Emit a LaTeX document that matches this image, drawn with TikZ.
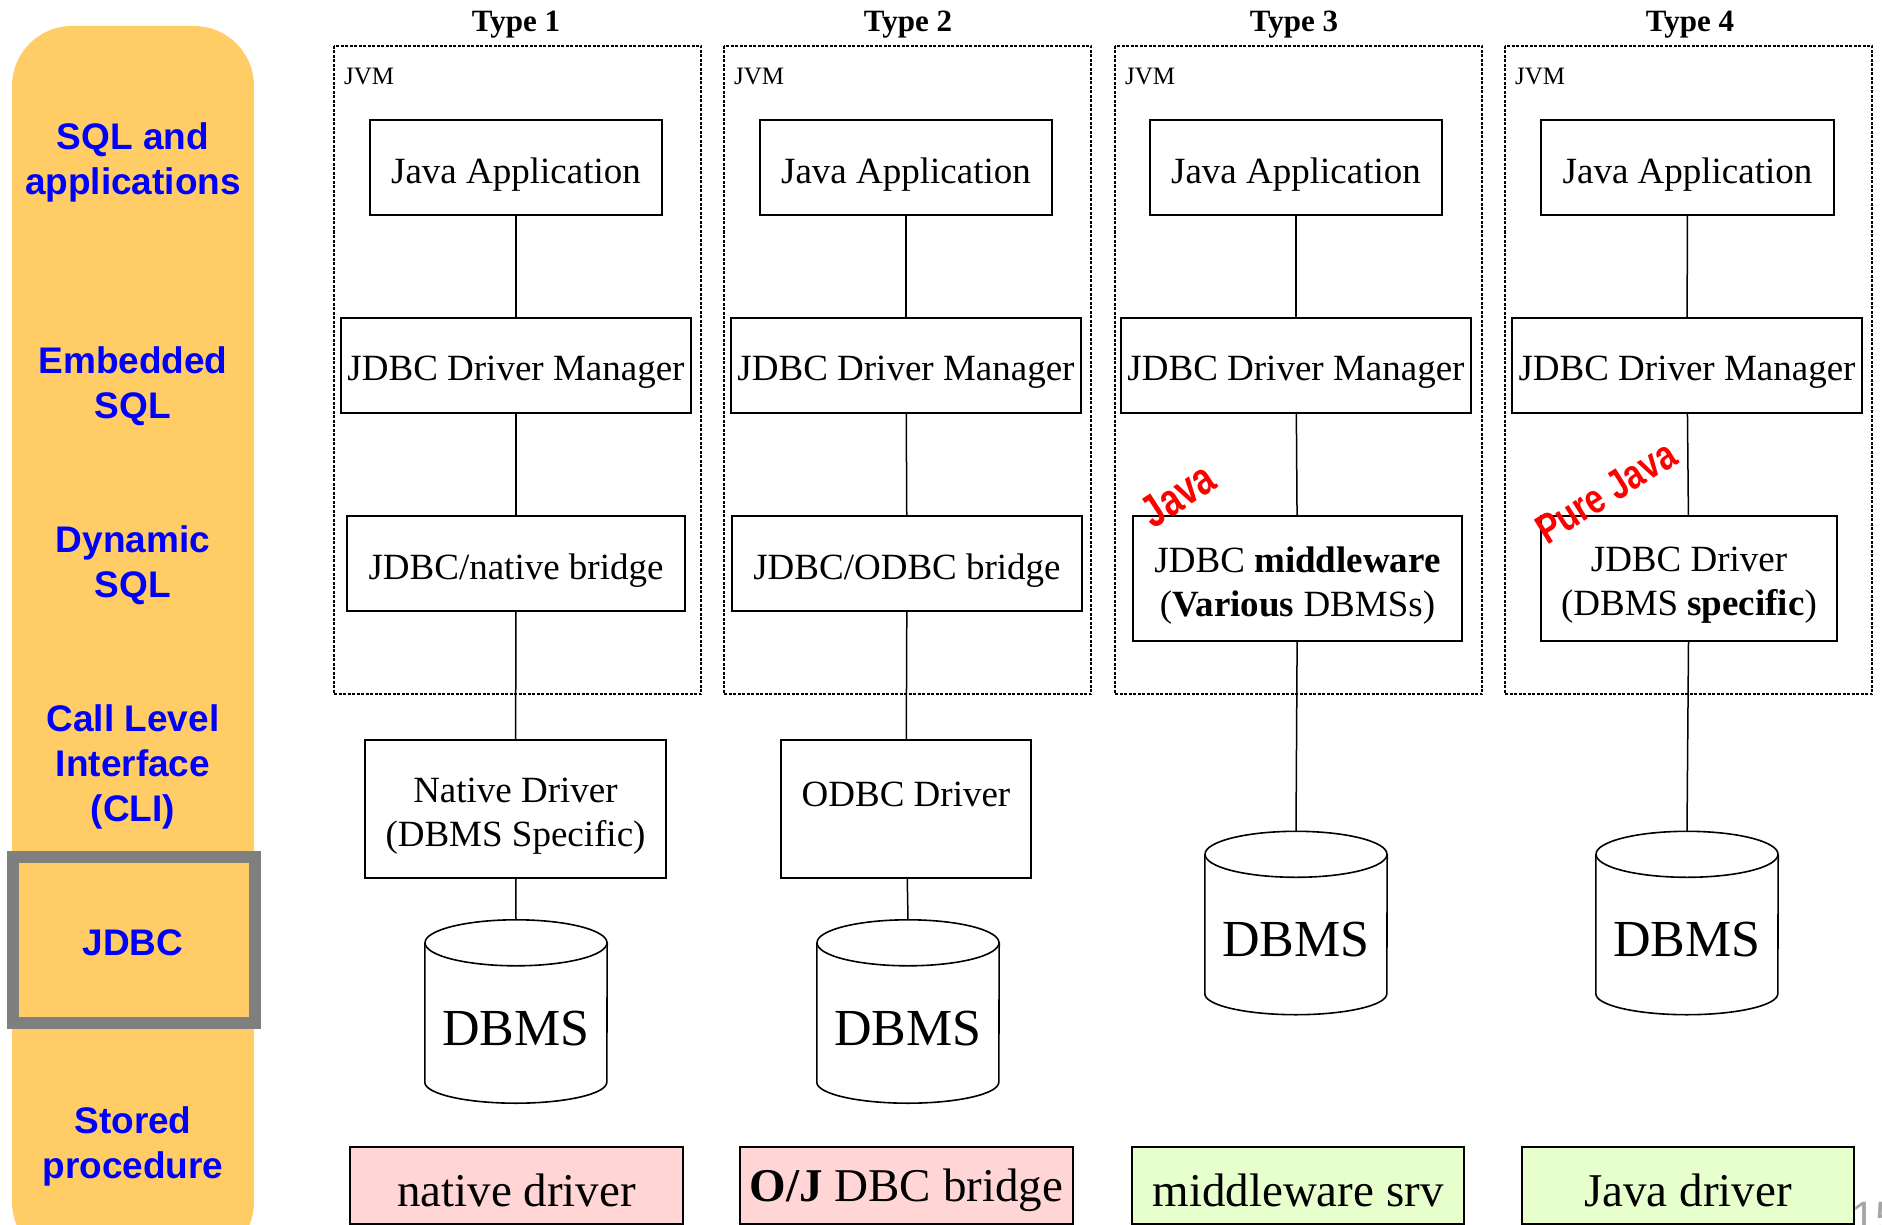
\documentclass[tikz,border=0pt]{standalone}
\usepackage{fontspec}
\setmainfont{Liberation Serif}
\setsansfont{Liberation Sans}
\definecolor{barorange}{HTML}{FFCC66}
\definecolor{pinkfill}{HTML}{FFD5D5}
\definecolor{greenfill}{HTML}{E6FFCC}
\definecolor{framegray}{HTML}{7F7F7F}
\newcommand\dn[2][7pt]{\raisebox{-#1}[\height][\depth]{#2}}
\newcommand\dbcyl[1]{%
  \draw[line width=1.6pt] ([yshift=-23pt]#1.north west) -- ([yshift=21pt]#1.south west)
     arc[start angle=180,end angle=360,x radius=91pt,y radius=21pt]
     -- ([yshift=-23pt]#1.north east);
  \draw[line width=1.6pt] ([yshift=-23pt]#1.north) ellipse[x radius=91pt,y radius=23pt];
}
\begin{document}
\begin{tikzpicture}[x=1pt,y=-1pt,
  box/.style={draw,line width=1.8pt,fill=white,inner sep=0pt,align=center,
    font=\fontsize{37}{44}\selectfont},
  conn/.style={line width=1.5pt},
  jvmbox/.style={draw,line width=1.8pt,dash pattern=on 3pt off 1.5pt},
  jvmlabel/.style={anchor=west,inner sep=0pt,font=\fontsize{25}{25}\selectfont},
  typetitle/.style={anchor=base,inner sep=0pt,font=\bfseries\fontsize{31}{31}\selectfont},
  side/.style={text=blue,align=center,inner sep=0pt,font=\sffamily\bfseries\fontsize{37}{45}\selectfont},
  dbnode/.style={inner sep=0pt,minimum width=182pt,minimum height=183pt},
  dbtext/.style={inner sep=0pt,font=\fontsize{52}{52}\selectfont},
  kindbox/.style={draw,line width=1.8pt,inner sep=0pt,minimum width=333pt,minimum height=77pt,
    font=\fontsize{47}{47}\selectfont},
  redtxt/.style={text=red,inner sep=0pt,font=\sffamily\bfseries\fontsize{38}{38}\selectfont}]
\useasboundingbox (0,0) rectangle (1882,1225);

% left bar
\path[fill=barorange,rounded corners=60pt] (12,26) rectangle (254,1262);
\draw[line width=12pt,framegray] (13,857) rectangle (255,1023);
\node[side] (s1) at (133,162) {SQL and\\applications};
\node[side] (s2) at (133,386) {Embedded\\SQL};
\node[side] (s3) at (133,565) {Dynamic\\SQL};
\node[side] (s4) at (133,767) {Call Level\\Interface\\(CLI)};
\node[side] (s5) at (133,943) {JDBC};
\node[side] (s6) at (133,1146) {Stored\\procedure};

% titles
\node[typetitle] (t1) at (516,32) {Type 1};
\node[typetitle] (t2) at (908,32) {Type 2};
\node[typetitle] (t3) at (1294,32) {Type 3};
\node[typetitle] (t4) at (1690,32) {Type 4};

% JVM frames
\draw[jvmbox] (334,46) rectangle (701,694);
\draw[jvmbox] (724,46) rectangle (1091,694);
\draw[jvmbox] (1115,46) rectangle (1482,694);
\draw[jvmbox] (1505,46) rectangle (1872,694);
\node[jvmlabel] (v1) at (344,77) {JVM};
\node[jvmlabel] (v2) at (734,77) {JVM};
\node[jvmlabel] (v3) at (1125,77) {JVM};
\node[jvmlabel] (v4) at (1515,77) {JVM};

% Type 1
\node[box,minimum width=292pt,minimum height=95pt] (ja1) at (516,167.5) {\dn{Java Application}};
\node[box,minimum width=350pt,minimum height=95pt] (dm1) at (516,365.5) {\dn{JDBC Driver Manager}};
\node[box,minimum width=338pt,minimum height=95pt] (br1) at (516,563.5) {\dn{JDBC/native bridge}};
\node[box,minimum width=301pt,minimum height=138pt] (nd1) at (515.5,809) {\dn{Native Driver}\\\dn{(DBMS Specific)}};
\node[dbnode] (db1) at (516,1011.5) {};
\dbcyl{db1}
\node[dbtext] (dt1) at ([yshift=-17pt]db1.center) {DBMS};
\node[kindbox,fill=pinkfill] (k1) at (516.5,1185.5) {\dn[5pt]{native driver}};

% Type 2
\node[box,minimum width=292pt,minimum height=95pt] (ja2) at (906,167.5) {\dn{Java Application}};
\node[box,minimum width=350pt,minimum height=95pt] (dm2) at (906,365.5) {\dn{JDBC Driver Manager}};
\node[box,minimum width=350pt,minimum height=95pt] (br2) at (907,563.5) {\dn{JDBC/ODBC bridge}};
\node[box,minimum width=250pt,minimum height=138pt] (od2) at (906,809) {\dn{ODBC Driver}\\\mbox{}};
\node[dbnode] (db2) at (908,1011.5) {};
\dbcyl{db2}
\node[dbtext] (dt2) at ([yshift=-17pt]db2.center) {DBMS};
\node[kindbox,fill=pinkfill] (k2) at (906.5,1185.5) {\dn[5pt]{\textbf{O/J} DBC bridge}};

% Type 3
\node[box,minimum width=292pt,minimum height=95pt] (ja3) at (1296,167.5) {\dn{Java Application}};
\node[box,minimum width=350pt,minimum height=95pt] (dm3) at (1296,365.5) {\dn{JDBC Driver Manager}};
\node[box,minimum width=329pt,minimum height=125pt] (mw3) at (1297.5,578.5) {\dn{JDBC \textbf{middleware}}\\\dn{(\textbf{Various} DBMSs)}};
\node[dbnode] (db3) at (1296,923) {};
\dbcyl{db3}
\node[dbtext] (dt3) at ([yshift=-17pt]db3.center) {DBMS};
\node[kindbox,fill=greenfill,minimum width=332pt] (k3) at (1298,1185.5) {\dn[5pt]{middleware srv}};

% Type 4
\node[box,minimum width=293pt,minimum height=95pt] (ja4) at (1687.5,167.5) {\dn{Java Application}};
\node[box,minimum width=350pt,minimum height=95pt] (dm4) at (1687,365.5) {\dn{JDBC Driver Manager}};
\node[box,minimum width=296pt,minimum height=125pt] (jd4) at (1689,578.5) {\dn{JDBC Driver}\\\dn{(DBMS \textbf{specific})}};
\node[dbnode] (db4) at (1687,923) {};
\dbcyl{db4}
\node[dbtext] (dt4) at ([yshift=-17pt]db4.center) {DBMS};
\node[kindbox,fill=greenfill,minimum width=332pt] (k4) at (1688,1185.5) {\dn[5pt]{Java driver}};

% connectors
\draw[conn] (ja1) -- (dm1); \draw[conn] (dm1) -- (br1); \draw[conn] (br1) -- (nd1); \draw[conn] (nd1) -- (db1.north);
\draw[conn] (ja2) -- (dm2); \draw[conn] (dm2) -- (br2); \draw[conn] (br2) -- (od2); \draw[conn] (od2) -- (db2.north);
\draw[conn] (ja3) -- (dm3); \draw[conn] (dm3) -- (mw3); \draw[conn] (mw3) -- (db3.north);
\draw[conn] (ja4) -- (dm4); \draw[conn] (dm4) -- (jd4); \draw[conn] (jd4) -- (db4.north);

% red annotations
\node[redtxt,rotate=33] (rj) at (1178,495) {\scalebox{0.92}[1.2]{Java}};
\node[redtxt,rotate=32,font=\sffamily\bfseries\fontsize{36}{36}\selectfont] (rpj) at (1606,492) {\scalebox{0.92}[1.15]{Pure Java}};

% page number (cut off)
\node[anchor=north west,inner sep=0pt,text=gray!70,font=\sffamily\fontsize{44}{44}\selectfont] (pg) at (1851,1202) {15};
\end{tikzpicture}
\end{document}
